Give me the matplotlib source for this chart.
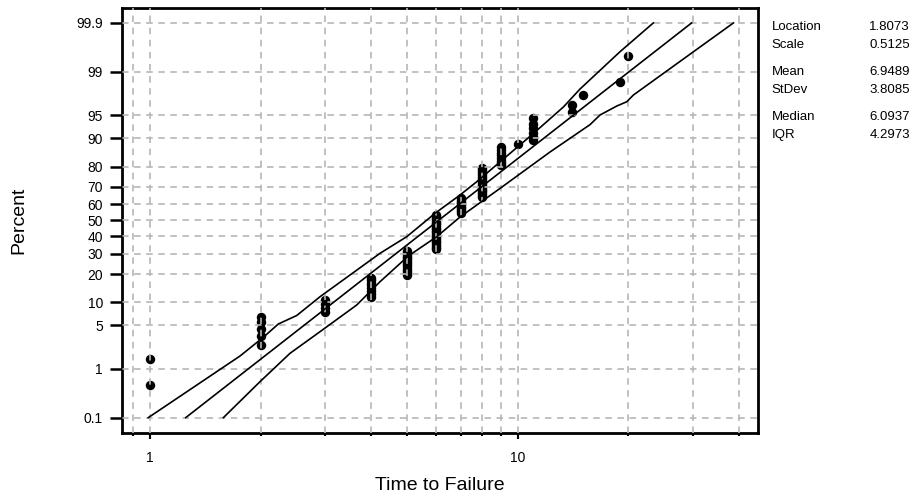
import statistics
import numpy as np
import matplotlib
matplotlib.use("Agg")
import matplotlib.pyplot as plt
from matplotlib.ticker import FixedLocator, FixedFormatter, NullFormatter

plt.rcParams["font.family"] = ["Liberation Sans", "DejaVu Sans"]
plt.rcParams["lines.scale_dashes"] = False

# failure times and number of units failing at each time
fail_times = [1, 2, 3, 4, 5, 6, 7, 8, 9, 10, 11, 14, 15, 19, 20]
fail_counts = [2, 5, 4, 8, 13, 22, 10, 16, 8, 1, 6, 2, 1, 1, 1]

# lognormal fit
loc = 1.8073
scale = 0.5125

# confidence band on time, (time, percent) pairs
ci_lo_time = [0.989, 1.757, 2.033, 2.233, 2.506, 2.900, 4.222, 4.991, 5.958,
              6.968, 7.735, 11.03, 13.31, 14.77, 18.97, 23.37]
ci_lo_pct = [0.1, 1.68, 3.35, 5.22, 6.80, 11.58, 30.27, 39.87, 54.36,
             65.4, 72.7, 91.3, 96.2, 98.01, 99.585, 99.9]
ci_hi_time = [1.583, 1.991, 2.403, 2.900, 3.649, 4.222, 5.040, 6.021, 6.968,
              8.951, 12.24, 15.73, 16.74, 18.59, 19.79, 20.63, 38.59]
ci_hi_pct = [0.1, 0.575, 1.865, 4.06, 9.24, 16.82, 28.81, 39.87, 52.06,
             69.13, 85.76, 93.30, 95.04, 96.32, 96.83, 97.51, 99.9]

pct_ticks = [0.1, 1, 5, 10, 20, 30, 40, 50, 60, 70, 80, 90, 95, 99, 99.9]
pct_labels = ["0.1", "1", "5", "10", "20", "30", "40", "50", "60", "70",
              "80", "90", "95", "99", "99.9"]
time_major = [1, 10]
time_minor = [0.9, 2, 3, 4, 5, 6, 7, 8, 9, 20, 30, 40]

stat_names = ["Location", "Scale", "Mean", "StDev", "Median", "IQR"]
stat_values = ["1.8073", "0.5125", "6.9489", "3.8085", "6.0937", "4.2973"]

nd = statistics.NormalDist()
_ppf = np.vectorize(lambda v: nd.inv_cdf(v / 100.0), otypes=[float])
_cdf = np.vectorize(lambda v: nd.cdf(v) * 100.0, otypes=[float])


def pct_to_z(p):
    p = np.clip(np.asarray(p, dtype=float), 1e-9, 100 - 1e-9)
    return _ppf(p)


def z_to_pct(z):
    return _cdf(np.asarray(z, dtype=float))


fig, ax = plt.subplots(figsize=(9.17, 4.97), dpi=100)
fig.subplots_adjust(left=0.133, right=0.8266, bottom=0.1288, top=0.9839)

ax.set_xscale("log")
ax.set_yscale("function", functions=(pct_to_z, z_to_pct))
ax.set_xlim(0.839, 45.0)
ax.set_ylim(0.0434, 99.9556)

# plotting positions (i - 0.5) / n
times = np.repeat(fail_times, fail_counts)
n = len(times)
rank_pct = (np.arange(1, n + 1) - 0.5) / n * 100
ax.plot(times, rank_pct, "o", color="black", ms=6.8, mew=0, zorder=2)

# fitted line and bands
fit_pct = np.array([0.1, 99.9])
fit_time = np.exp(loc + scale * pct_to_z(fit_pct))
ax.plot(fit_time, fit_pct, color="black", lw=1.2, zorder=3)
ax.plot(ci_lo_time, ci_lo_pct, color="black", lw=1.2, zorder=3)
ax.plot(ci_hi_time, ci_hi_pct, color="black", lw=1.2, zorder=3)

ax.yaxis.set_major_locator(FixedLocator(pct_ticks))
ax.yaxis.set_major_formatter(FixedFormatter(pct_labels))
ax.yaxis.set_minor_locator(FixedLocator([]))
ax.xaxis.set_major_locator(FixedLocator(time_major))
ax.xaxis.set_major_formatter(FixedFormatter([str(t) for t in time_major]))
ax.xaxis.set_minor_locator(FixedLocator(time_minor))
ax.xaxis.set_minor_formatter(NullFormatter())

ax.set_axisbelow(False)
grid_style = dict(color="#b6b6b6", lw=1.2, linestyle=(0, (4.7, 4.0)))
ax.grid(axis="y", which="major", **grid_style)
ax.grid(axis="x", which="both", **grid_style)

ax.tick_params(axis="y", which="major", direction="out", length=8.6,
               width=1.8, pad=5, labelsize=10)
ax.tick_params(axis="x", which="major", direction="out", length=4,
               width=1.5, pad=9, labelsize=10)
ax.tick_params(axis="x", which="minor", direction="out", length=2.5,
               width=1.5)
for sp in ax.spines.values():
    sp.set_linewidth(2)

ax.set_xlabel("Time to Failure", fontsize=14)
ax.set_ylabel("Percent", fontsize=14)
ax.xaxis.set_label_coords(0.5, -0.104)
ax.yaxis.set_label_coords(-0.148, 0.5)

# summary statistics beside the plot
W, H = 917, 497
for i, (name, val) in enumerate(zip(stat_names, stat_values)):
    y = 27 + 18 * i + 9 * (i // 2)
    fig.text(771.7 / W, 1 - y / H, name, fontsize=9.5, va="center", ha="left")
    fig.text(910 / W, 1 - y / H, val, fontsize=9.5, va="center", ha="right")

fig.savefig("out.png", dpi=100)
